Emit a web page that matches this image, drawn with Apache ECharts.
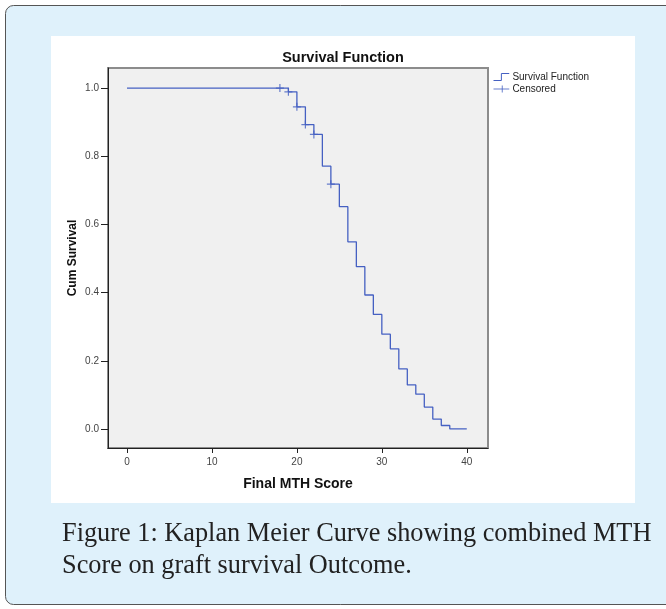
<!DOCTYPE html>
<html>
<head>
<meta charset="utf-8">
<script src="https://cdn.jsdelivr.net/npm/echarts@6/dist/echarts.min.js"></script>
<style>
html,body{margin:0;padding:0;background:#ffffff;}
#c{width:666px;height:609px;}
</style>
</head>
<body>
<div id="c"></div>
<script>
// Kaplan-Meier step points: [score, cumulative survival]
var kmScores   = [0, 19, 20, 21, 22, 23, 24, 25, 26, 27, 28, 29, 30, 31, 32, 33, 34, 35, 36, 37, 38, 40];
var kmSurvival = [1.0, 0.989, 0.945, 0.893, 0.864, 0.771, 0.718, 0.652, 0.549, 0.476, 0.393, 0.336, 0.278, 0.235, 0.176, 0.129, 0.102, 0.064, 0.029, 0.010, 0.0, 0.0];
// Censored marks
var censScores   = [18, 19, 20, 21, 22, 24];
var censSurvival = [1.0, 0.989, 0.945, 0.893, 0.864, 0.718];
// Tick labels
var xTicks = [0, 10, 20, 30, 40];
var yTicks = [0.0, 0.2, 0.4, 0.6, 0.8, 1.0];

var titleText = 'Survival Function';
var xName = 'Final MTH Score';
var yName = 'Cum Survival';
var legendNames = ['Survival Function', 'Censored'];
var captionLines = ['Figure 1: Kaplan Meier Curve showing combined MTH', 'Score on graft survival Outcome.'];

var lineColor = '#4560c2';

var kmData = kmScores.map(function (s, i) { return [s, kmSurvival[i]]; });
var censData = censScores.map(function (s, i) { return [s, censSurvival[i]]; });

var chart = echarts.init(document.getElementById('c'), null, {renderer: 'canvas'});

var option = {
  animation: false,
  backgroundColor: 'transparent',
  graphic: [
    {type: 'rect', z: -10, silent: true,
     shape: {x: 5.5, y: 5.5, width: 700, height: 599, r: 8},
     style: {fill: '#dff1fb', stroke: '#555555', lineWidth: 1}},
    {type: 'rect', z: -9, silent: true,
     shape: {x: 51, y: 36, width: 584, height: 467},
     style: {fill: '#ffffff'}},
    {type: 'text', z: 5, silent: true, left: 62, top: 521,
     style: {text: captionLines[0], font: '26.3px "Liberation Serif"', fill: '#222222'}},
    {type: 'text', z: 5, silent: true, left: 62, top: 553,
     style: {text: captionLines[1], font: '26.3px "Liberation Serif"', fill: '#222222'}}
  ],
  title: {
    text: titleText,
    left: 343, top: 50, textAlign: 'center', padding: 0,
    textStyle: {fontFamily: 'Liberation Sans', fontSize: 14.5, fontWeight: 'bold', color: '#111111'}
  },
  legend: {
    orient: 'vertical', left: 491, top: 71, padding: 0,
    itemWidth: 18, itemHeight: 7, itemGap: 0,
    textStyle: {fontFamily: 'Liberation Sans', fontSize: 10, color: '#222222', lineHeight: 11.6, padding: [0, 0, 0, -3]},
    data: [
      {name: legendNames[0], icon: 'path://M0,8 L9,8 L9,0 L18,0',
       itemStyle: {color: 'none', borderColor: lineColor, borderWidth: 1}},
      {name: legendNames[1], icon: 'path://M0,4 L18,4 M10,0 L10,8',
       itemStyle: {color: 'none', borderColor: lineColor, borderWidth: 1}}
    ]
  },
  grid: {
    left: 108, top: 68, right: 178, bottom: 161,
    show: true, backgroundColor: '#f0f0f0', borderColor: '#8c8c8c', borderWidth: 2,
    containLabel: false
  },
  xAxis: {
    type: 'value', min: -2.24, max: 42.5,
    name: xName, nameLocation: 'middle', nameGap: 29,
    nameTextStyle: {fontFamily: 'Liberation Sans', fontSize: 14, fontWeight: 'bold', color: '#111111'},
    axisLine: {show: true, onZero: false, lineStyle: {color: '#222222', width: 1}},
    axisTick: {show: true, length: 5, lineStyle: {color: '#222222'}, customValues: xTicks},
    axisLabel: {fontFamily: 'Liberation Sans', fontSize: 10, color: '#444444', margin: 9, customValues: xTicks},
    splitLine: {show: false}
  },
  yAxis: {
    type: 'value', min: -0.056, max: 1.059,
    name: yName, nameLocation: 'middle', nameGap: 29, nameRotate: 90, nameMoveOverlap: false,
    nameTextStyle: {fontFamily: 'Liberation Sans', fontSize: 12, fontWeight: 'bold', color: '#111111'},
    axisLine: {show: true, onZero: false, lineStyle: {color: '#222222', width: 1}},
    axisTick: {show: true, length: 7, lineStyle: {color: '#222222'}, customValues: yTicks},
    axisLabel: {fontFamily: 'Liberation Sans', fontSize: 10, color: '#444444', margin: 9, customValues: yTicks,
      formatter: function (v) { return v.toFixed(1); }},
    splitLine: {show: false}
  },
  series: [
    {name: legendNames[0], type: 'line', step: 'end', data: kmData,
     symbol: 'none', lineStyle: {color: lineColor, width: 1.3}, itemStyle: {color: lineColor}},
    {name: legendNames[1], type: 'scatter', data: censData,
     symbol: 'path://M0,5 L10,5 M5,0 L5,10', symbolSize: [8, 8],
     itemStyle: {color: 'none', borderColor: lineColor, borderWidth: 1.2}}
  ]
};
chart.setOption(option);
</script>
</body>
</html>
